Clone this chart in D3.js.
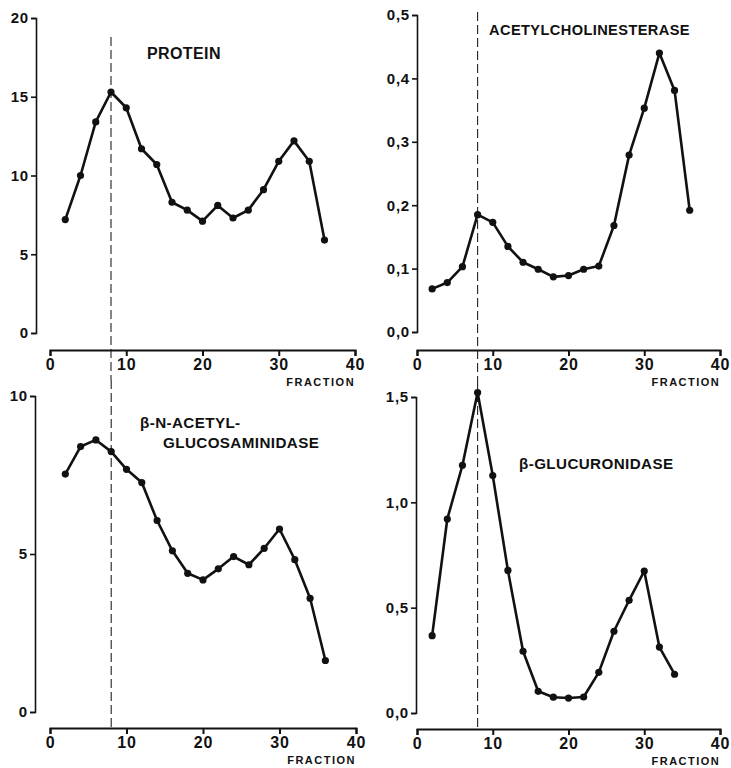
<!DOCTYPE html>
<html>
<head>
<meta charset="utf-8">
<script src="https://cdn.jsdelivr.net/npm/d3@7"></script>
<style>
  body { margin: 0; background: #fff; }
  svg { display: block; }
  text { font-family: "Liberation Sans", Arial, sans-serif; font-weight: bold; fill: #111; }
</style>
</head>
<body>
<svg id="chart" width="731" height="768"></svg>
<script>
// fraction numbers
const fractions = [2, 4, 6, 8, 10, 12, 14, 16, 18, 20, 22, 24, 26, 28, 30, 32, 34, 36]
const fractionsGlu = [2, 4, 6, 8, 10, 12, 14, 16, 18, 20, 22, 24, 26, 28, 30, 32, 34]

// values
const protein = [7.2, 10.0, 13.4, 15.3, 14.3, 11.7, 10.7, 8.3, 7.8, 7.1, 8.1, 7.3, 7.8, 9.1, 10.9, 12.2, 10.9, 5.9]
const acetylcholinesterase = [0.068, 0.078, 0.103, 0.185, 0.173, 0.135, 0.110, 0.099, 0.087, 0.089, 0.099, 0.104, 0.168, 0.279, 0.353, 0.440, 0.381, 0.192]
const nag = [7.53, 8.40, 8.61, 8.24, 7.68, 7.26, 6.06, 5.10, 4.39, 4.18, 4.53, 4.92, 4.66, 5.18, 5.79, 4.82, 3.60, 1.63]
const glucuronidase = [0.367, 0.921, 1.176, 1.521, 1.127, 0.677, 0.293, 0.103, 0.075, 0.071, 0.076, 0.193, 0.388, 0.535, 0.674, 0.313, 0.184]

const xTicks = [0, 10, 20, 30, 40]
const markerFraction = 8

const svg = d3.select('#chart')

const comma = d => d3.format('.1f')(d).replace('.', ',')

/**
 * one panel: y axis as bracket, x axis below it,
 * dashed marker, line with dots and a title
 */
const drawPanel = (p) => {
    const x = d3.scaleLinear().domain([0, 40]).range(p.xRange)
    const y = d3.scaleLinear().domain(p.yDomain).range(p.yRange)
    const g = svg.append('g')

    // dashed marker at fraction 8
    g.append('line')
        .attr('x1', x(markerFraction)).attr('x2', x(markerFraction))
        .attr('y1', p.dash[0]).attr('y2', p.dash[1])
        .attr('stroke', '#222')
        .attr('stroke-width', 1.1)
        .attr('stroke-dasharray', '9,4')

    const yAxis = g.append('g')
        .attr('transform', `translate(${p.yAxisX},0)`)
        .call(d3.axisLeft(y).tickValues(p.yTicks).tickFormat(p.fmt)
            .tickSize(5).tickSizeOuter(5).tickPadding(2))
    yAxis.selectAll('path, line').attr('stroke', '#111').attr('stroke-width', 1.6)
    yAxis.selectAll('text').style('font-size', '15px').style('letter-spacing', '0.8px')
        .attr('fill', '#111')

    const xAxis = g.append('g')
        .attr('transform', `translate(0,${p.xAxisY})`)
        .call(d3.axisBottom(x).tickValues(xTicks).tickFormat(d3.format('d'))
            .tickSize(6).tickSizeOuter(6).tickPadding(3))
    xAxis.selectAll('path, line').attr('stroke', '#111').attr('stroke-width', 2)
    xAxis.selectAll('text').style('font-size', '16px').style('letter-spacing', '0.8px')
        .attr('fill', '#111')

    g.append('text')
        .attr('x', x(35.5)).attr('y', p.xAxisY + 36)
        .attr('text-anchor', 'middle')
        .style('font-size', '11px')
        .style('letter-spacing', '1.5px')
        .text('FRACTION')

    const pts = p.values.map((v, i) => ({x: p.fr[i], y: v}))

    g.append('path')
        .datum(pts)
        .attr('fill', 'none')
        .attr('stroke', '#111')
        .attr('stroke-width', 2.6)
        .attr('stroke-linejoin', 'round')
        .attr('d', d3.line().x(d => x(d.x)).y(d => y(d.y)))

    g.selectAll('dot')
        .data(pts)
        .enter()
        .append('circle')
            .attr('cx', d => x(d.x))
            .attr('cy', d => y(d.y))
            .attr('r', 3.6)
            .style('fill', '#111')

    p.title.forEach(t => {
        g.append('text')
            .attr('x', t.x).attr('y', t.y)
            .style('font-size', t.size + 'px')
            .style('letter-spacing', '0.4px')
            .text(t.text)
    })
}

drawPanel({
    values: protein, fr: fractions,
    xRange: [50, 355], yDomain: [0, 20], yRange: [333, 18],
    yTicks: [0, 5, 10, 15, 20], fmt: d3.format('d'),
    yAxisX: 36, xAxisY: 350, dash: [37, 380],
    title: [{text: 'PROTEIN', x: 147, y: 59, size: 16}]
})

drawPanel({
    values: acetylcholinesterase, fr: fractions,
    xRange: [417, 720], yDomain: [0, 0.5], yRange: [332, 15],
    yTicks: [0, 0.1, 0.2, 0.3, 0.4, 0.5], fmt: comma,
    yAxisX: 417, xAxisY: 350, dash: [12, 380],
    title: [{text: 'ACETYLCHOLINESTERASE', x: 489, y: 35, size: 14.6}]
})

drawPanel({
    values: nag, fr: fractions,
    xRange: [50, 356], yDomain: [0, 10], yRange: [712, 396],
    yTicks: [0, 5, 10], fmt: d3.format('d'),
    yAxisX: 35, xAxisY: 728, dash: [380, 728],
    title: [{text: 'β-N-ACETYL-', x: 140, y: 428, size: 15.2},
            {text: 'GLUCOSAMINIDASE', x: 163, y: 448, size: 15.2}]
})

drawPanel({
    values: glucuronidase, fr: fractionsGlu,
    xRange: [417, 720], yDomain: [0, 1.5], yRange: [713, 397],
    yTicks: [0, 0.5, 1, 1.5], fmt: comma,
    yAxisX: 416, xAxisY: 729, dash: [380, 729],
    title: [{text: 'β-GLUCURONIDASE', x: 519, y: 469, size: 15.2}]
})
</script>
</body>
</html>
